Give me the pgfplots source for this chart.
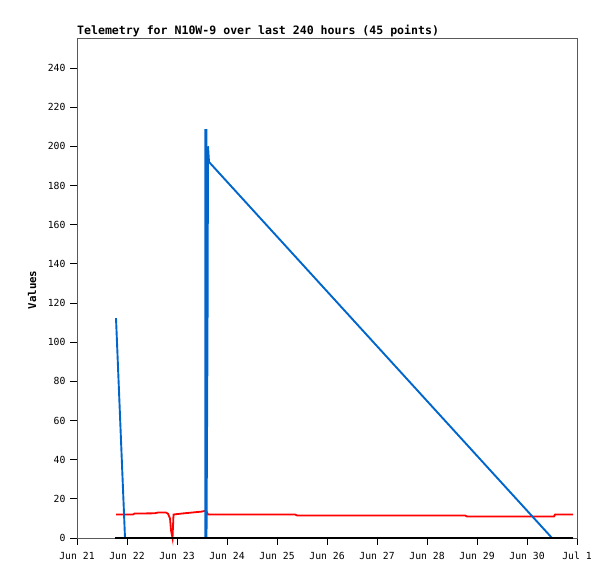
\documentclass[border=0pt]{standalone}
\usepackage{fontspec}
\setmonofont{DejaVu Sans Mono}
\usepackage{pgfplots}
\pgfplotsset{compat=1.18}
\definecolor{tblue}{RGB}{0,102,204}
\begin{document}
\begin{tikzpicture}[x=1bp,y=1bp]
\useasboundingbox (0,0) rectangle (615,579);
\begin{axis}[at={(77bp,41bp)}, anchor=south west, scale only axis,
  width=500bp, height=500bp,
  xmin=0, xmax=10, ymin=0, ymax=255.3,
  xtick={0,1,...,10},
  xticklabels={Jun 21,Jun 22,Jun 23,Jun 24,Jun 25,Jun 26,Jun 27,Jun 28,Jun 29,Jun 30,Jul 1},
  ytick={0,20,...,240},
  xtick pos=bottom, ytick pos=left,
  tick align=outside, major tick length=7bp,
  tick style={black, line width=0.8bp},
  axis line style={black!65, line width=0.8bp},
  ticklabel style={font=\ttfamily\fontsize{9.8}{11}\selectfont},
  /pgf/number format/assume math mode=true,
  xticklabel style={yshift=-3.5bp},
  yticklabel style={xshift=-1bp},
  clip=false,
]
\addplot[red, line width=1.8bp] coordinates {
(0.78,12)(1.12,12)(1.15,12.5)(1.55,12.6)(1.62,13)(1.78,13)(1.82,12.4)(1.86,10)(1.88,4)(1.91,0)(1.93,12)(2.1,12.5)(2.3,13)(2.5,13.5)(2.58,14)(2.62,12)
(4.36,12)(4.40,11.5)(7.76,11.5)(7.80,11)(9.54,11)(9.56,12)(9.92,12)};
\addplot[tblue, line width=1.9bp] coordinates {
(0.78,112.3)(0.96,0)(2.565,0)(2.565,208.3)(2.59,208.3)(2.59,0)(2.61,104)(2.62,200)(2.64,192)(9.50,0)(9.92,0)};
\addplot[black, line width=2bp] coordinates {(0.76,0)(9.92,0)};
\end{axis}
\node[anchor=base west, inner sep=0pt, font=\ttfamily\bfseries\fontsize{11.6}{14}\selectfont] at (77,544) {Telemetry for N10W-9 over last 240 hours (45 points)};
\node[rotate=90, inner sep=0pt, font=\ttfamily\bfseries\fontsize{10.8}{12}\selectfont] at (32,289) {Values};
\end{tikzpicture}
\end{document}
